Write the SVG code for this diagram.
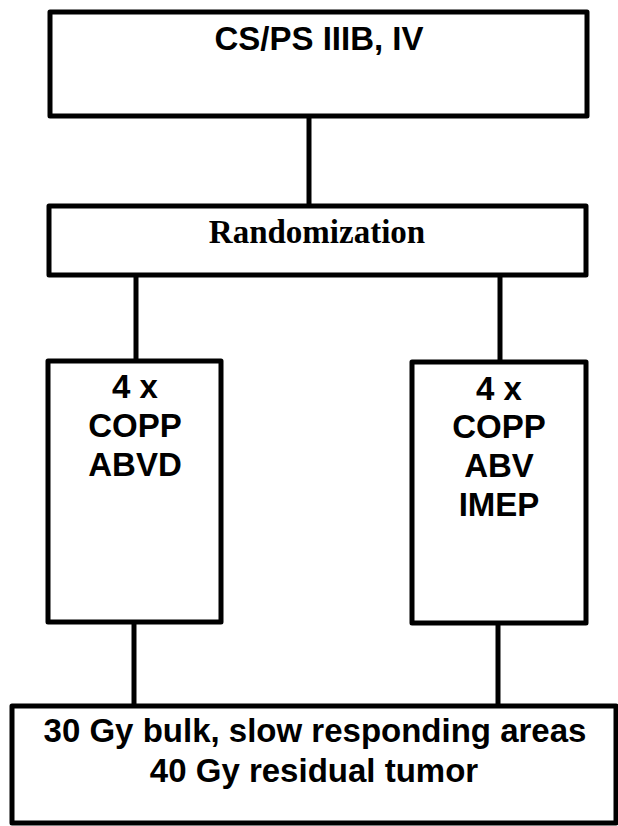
<svg xmlns="http://www.w3.org/2000/svg" width="618" height="826" viewBox="0 0 618 826">
  <style>
    .box { fill: #ffffff; stroke: #000000; stroke-width: 5; stroke-linejoin: round; }
    .conn { stroke: #000000; stroke-width: 5; fill: none; }
    .sans { font-family: "Liberation Sans", Arial, sans-serif; font-weight: bold; font-size: 33px; fill: #000000; text-anchor: middle; }
    .serif { font-family: "Liberation Serif", "Times New Roman", serif; font-weight: bold; font-size: 33px; fill: #000000; text-anchor: middle; }
  </style>
  <rect x="0" y="0" width="618" height="826" fill="#ffffff"/>
  <g id="connectors">
    <line class="conn" x1="309" y1="116" x2="309" y2="206"/>
    <line class="conn" x1="136" y1="275" x2="136" y2="361"/>
    <line class="conn" x1="500" y1="276" x2="500" y2="362"/>
    <line class="conn" x1="134" y1="622" x2="134" y2="706"/>
    <line class="conn" x1="498" y1="623" x2="498" y2="707"/>
  </g>
  <g id="stage">
    <rect class="box" x="50" y="12" width="537" height="104"/>
    <text class="sans" x="319" y="50">CS/PS IIIB, IV</text>
  </g>
  <g id="randomization">
    <rect class="box" x="49" y="206" width="537" height="69"/>
    <text class="serif" x="317" y="243">Randomization</text>
  </g>
  <g id="arm-a">
    <rect class="box" x="48" y="361" width="173" height="261"/>
    <text class="sans" x="135" y="398">4 x</text>
    <text class="sans" x="135" y="437">COPP</text>
    <text class="sans" x="135" y="476">ABVD</text>
  </g>
  <g id="arm-b">
    <rect class="box" x="412" y="362" width="174" height="261"/>
    <text class="sans" x="499" y="400">4 x</text>
    <text class="sans" x="499" y="438">COPP</text>
    <text class="sans" x="499" y="477">ABV</text>
    <text class="sans" x="499" y="516">IMEP</text>
  </g>
  <g id="radiotherapy">
    <rect class="box" x="12" y="706" width="604" height="117"/>
    <text class="sans" x="315" y="742">30 Gy bulk, slow responding areas</text>
    <text class="sans" x="314" y="782">40 Gy residual tumor</text>
  </g>
</svg>
